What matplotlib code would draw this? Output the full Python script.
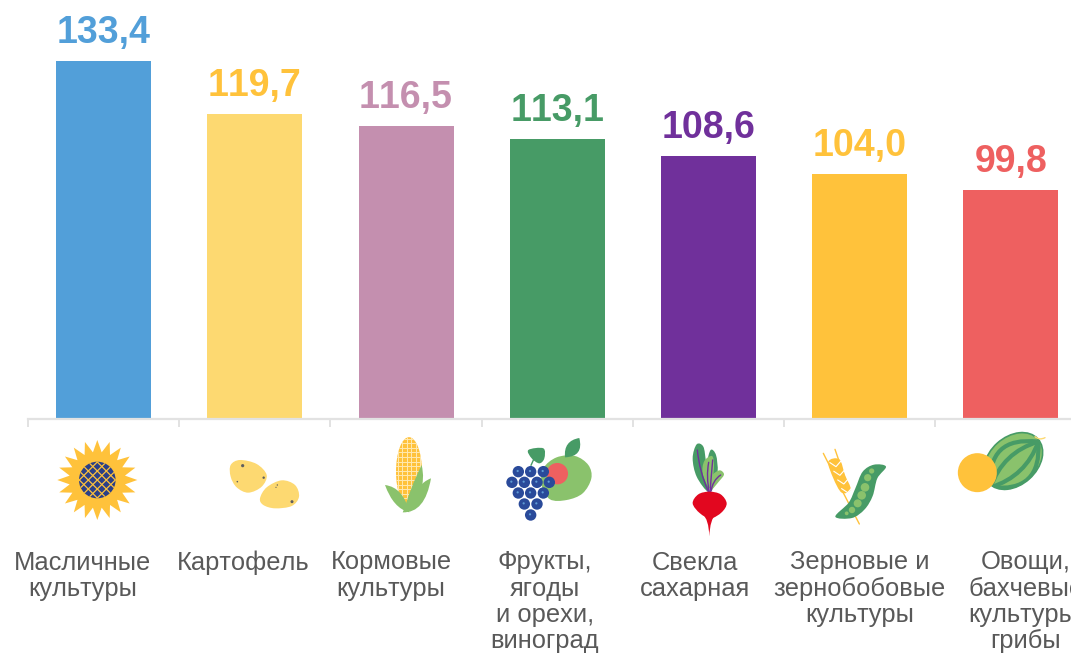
"""Bar chart of crop indices with drawn crop icons."""

import matplotlib

matplotlib.use("Agg")

from matplotlib import pyplot as plt  # noqa: E402
from matplotlib.patches import Circle, Ellipse, PathPatch, Polygon  # noqa: E402
from matplotlib.path import Path  # noqa: E402
import numpy as np  # noqa: E402

VALUES = [133.4, 119.7, 116.5, 113.1, 108.6, 104.0, 99.8]
VALUE_LABELS = ["133,4", "119,7", "116,5", "113,1", "108,6", "104,0", "99,8"]
CATEGORIES = [
    "Масличные\nкультуры",
    "Картофель",
    "Кормовые\nкультуры",
    "Фрукты,\nягоды\nи орехи,\nвиноград",
    "Свекла\nсахарная",
    "Зерновые и\nзернобобовые\nкультуры",
    "Овощи,\nбахчевые\nкультуры,\nгрибы",
]
LABEL_X = [82.5, 243.5, 391, 545, 695, 859.5, 1026]
BAR_COLORS = ["#529FD9", "#FDD971", "#C48FAF", "#479B66", "#70309B", "#FFC23B", "#EE6060"]
TEXT_COLORS = ["#529FD9", "#FFC23B", "#C48FAF", "#479B66", "#70309B", "#FFC23B", "#EE6060"]

W, H = 1071, 654
BASE_Y = 418.5
Y_MIN = 40.6
PX_PER_UNIT = 3.854
SPACING = 151.17
FIRST_CENTER = 103.7

LIGHT_GREEN = "#8AC26C"
DARK_GREEN = "#479B66"
YELLOW = "#FFC23B"
NAVY = "#2A4A9A"

plt.rcParams["font.family"] = ["Liberation Sans", "DejaVu Sans"]
plt.rcParams["text.kerning_factor"] = 10

fig = plt.figure(figsize=(W / 100, H / 100), dpi=100)
ax = fig.add_axes([28 / W, 1 - BASE_Y / H, 1 - 28 / W, BASE_Y / H])
ax.set_xlim(-(FIRST_CENTER - 28) / SPACING, (W - FIRST_CENTER) / SPACING)
ax.set_ylim(Y_MIN, Y_MIN + BASE_Y / PX_PER_UNIT)

x = np.arange(len(VALUES))
bars = ax.bar(x, np.array(VALUES) - Y_MIN, bottom=Y_MIN, width=95 / SPACING, color=BAR_COLORS)
for bar, text, color in zip(bars, VALUE_LABELS, TEXT_COLORS):
    ax.annotate(
        text,
        (bar.get_x() + bar.get_width() / 2, bar.get_y() + bar.get_height()),
        xytext=(0, 13),
        textcoords="offset points",
        ha="center",
        va="baseline",
        fontsize=27,
        fontweight="bold",
        color=color,
    )

for side in ("top", "left", "right"):
    ax.spines[side].set_visible(False)
ax.spines["bottom"].set_color("#E2E2E2")
ax.spines["bottom"].set_linewidth(1.6)
ax.set_yticks([])
ax.set_xticks(np.arange(-0.5, 6.5))
ax.set_xticklabels([])
ax.tick_params(axis="x", length=6, width=1.2, color="#DDDDDD")

# overlay in image pixels for the icons and category labels
icons = fig.add_axes([0, 0, 1, 1], facecolor="none")
icons.set_xlim(0, W)
icons.set_ylim(H, 0)
icons.axis("off")

for label_x, label in zip(LABEL_X, CATEGORIES):
    icons.text(
        label_x,
        550.5,
        label,
        ha="center",
        va="top",
        fontsize=18.4,
        linespacing=1.11,
        color="#595959",
    )


def scaled(origin, points):
    return [(origin[0] + px / 3, origin[1] + py / 3) for px, py in points]


def blob(points, color, zorder=3):
    """Closed smooth shape through the given points."""
    pts = np.array(points, dtype=float)
    n = len(pts)
    verts = [pts[0]]
    codes = [Path.MOVETO]
    for i in range(n):
        c1 = pts[i] + (pts[(i + 1) % n] - pts[i - 1]) / 6
        c2 = pts[(i + 1) % n] - (pts[(i + 2) % n] - pts[i]) / 6
        verts += [c1, c2, pts[(i + 1) % n]]
        codes += [Path.CURVE4] * 3
    patch = PathPatch(Path(verts, codes), fc=color, ec="none", zorder=zorder)
    icons.add_patch(patch)
    return patch


def leaf(points, color, zorder=3):
    """Pointed shape from tip a to tip b with one control point per side."""
    a, c1, b, c2 = points
    path = Path([a, c1, b, c2, a], [Path.MOVETO, Path.CURVE3, Path.CURVE3, Path.CURVE3, Path.CURVE3])
    patch = PathPatch(path, fc=color, ec="none", zorder=zorder)
    icons.add_patch(patch)
    return patch


def curve(points, color, lw, zorder=4, clip=None):
    """Open quadratic stroke through start, control, end."""
    path = Path(points, [Path.MOVETO, Path.CURVE3, Path.CURVE3])
    patch = PathPatch(path, fc="none", ec=color, lw=lw, zorder=zorder, capstyle="round")
    icons.add_patch(patch)
    if clip is not None:
        patch.set_clip_path(clip)
    return patch


def draw_sunflower():
    cx, cy = 97.3, 480
    angles = np.arange(40) * np.pi / 20 + np.pi / 2
    radii = np.where(np.arange(40) % 2 == 0, 40, 28)
    star = np.column_stack([cx + radii * np.cos(angles), cy + radii * np.sin(angles)])
    icons.add_patch(Polygon(star, fc=YELLOW, ec="none", zorder=3))
    disc = Circle((cx, cy), 18.3, fc="#2B3F87", ec="none", zorder=4)
    icons.add_patch(disc)
    for offset in np.arange(-27, 28, 9):
        for sign in (1, -1):
            line, = icons.plot(
                [cx - 25, cx + 25],
                [cy + offset - sign * 25, cy + offset + sign * 25],
                color=YELLOW,
                lw=0.9,
                zorder=5,
            )
            line.set_clip_path(disc)


def draw_potatoes():
    origin = (0, 400)
    blob(
        scaled(origin, [(692, 195), (720, 180), (770, 192), (800, 225), (785, 260), (745, 278), (710, 262), (692, 230)]),
        "#FDD971",
    )
    blob(
        scaled(origin, [(780, 295), (800, 262), (845, 241), (885, 255), (897, 290), (875, 318), (825, 325), (790, 315)]),
        "#FDD971",
    )
    for (px, py), size in [
        ((728, 197), 1.6),
        ((791, 233), 1.2),
        ((712, 245), 0.8),
        ((832, 255), 0.7),
        ((828, 262), 0.6),
        ((876, 305), 1.5),
    ]:
        icons.add_patch(Circle(scaled(origin, [(px, py)])[0], size, fc="#5F5F5F", ec="none", zorder=4))


def draw_corn():
    origin = (360, 400)
    cx, cy = scaled(origin, [(147, 215)])[0]
    cob = Ellipse((cx, cy), 26, 69, fc=YELLOW, ec="none", zorder=3)
    icons.add_patch(cob)
    for gx in np.arange(cx - 11, cx + 12, 4.4):
        line, = icons.plot([gx, gx], [cy - 36, cy + 36], color="#FFE9B0", lw=0.7, zorder=4)
        line.set_clip_path(cob)
    for gy in np.arange(cy - 33, cy + 34, 4.6):
        line, = icons.plot([cx - 14, cx + 14], [gy, gy], color="#FFE9B0", lw=0.7, zorder=4)
        line.set_clip_path(cob)
    leaf(scaled(origin, [(75, 255), (130, 262), (148, 337), (100, 325)]), LIGHT_GREEN, 5)
    leaf(scaled(origin, [(213, 235), (170, 250), (128, 337), (195, 340)]), LIGHT_GREEN, 5)
    leaf(scaled(origin, [(185, 195), (150, 265), (130, 337), (205, 280)]), LIGHT_GREEN, 5)


def draw_fruit():
    origin = (360, 400)
    blob(
        scaled(origin, [(550, 205), (590, 172), (645, 168), (685, 195), (694, 235), (668, 280), (620, 300), (570, 298), (545, 255)]),
        LIGHT_GREEN,
    )
    icons.add_patch(Circle(scaled(origin, [(592, 221)])[0], 10.7, fc="#EE6060", ec="none", zorder=4))
    leaf(scaled(origin, [(615, 172), (610, 122), (658, 114), (672, 170)]), DARK_GREEN, 4)
    blob(scaled(origin, [(505, 150), (550, 145), (553, 175), (538, 190), (515, 175)]), DARK_GREEN, 4)
    curve(scaled(origin, [(522, 176), (518, 185), (513, 196)]), DARK_GREEN, 1.0)
    grapes = [
        (475, 215), (512, 215), (550, 215),
        (456, 247), (493, 247), (531, 247), (568, 247),
        (475, 279), (512, 279), (550, 279),
        (493, 312), (531, 312),
        (512, 345),
    ]
    for gx, gy in grapes:
        icons.add_patch(Circle(scaled(origin, [(gx, gy)])[0], 5.7, fc=NAVY, ec="none", zorder=5))
        icons.add_patch(Circle(scaled(origin, [(gx - 2, gy - 2)])[0], 1.1, fc="#5F9BD5", ec="none", zorder=6))


def draw_beet():
    origin = (670, 435)
    blob(scaled(origin, [(114, 170), (80, 125), (68, 70), (80, 28), (100, 35), (108, 80), (116, 130)]), DARK_GREEN)
    blob(scaled(origin, [(122, 165), (112, 90), (122, 45), (138, 60), (143, 110), (132, 150)]), DARK_GREEN)
    blob(scaled(origin, [(118, 160), (98, 115), (103, 78), (126, 63), (132, 90), (128, 130)]), LIGHT_GREEN, 4)
    blob(scaled(origin, [(122, 165), (124, 125), (148, 106), (162, 118), (148, 138)]), LIGHT_GREEN, 4)
    curve(scaled(origin, [(116, 172), (88, 110), (82, 45)]), "#70309B", 1.0, 5)
    curve(scaled(origin, [(118, 172), (108, 125), (116, 82)]), "#70309B", 1.0, 5)
    curve(scaled(origin, [(120, 172), (124, 120), (128, 75)]), "#70309B", 1.0, 5)
    curve(scaled(origin, [(122, 172), (128, 135), (152, 120)]), "#70309B", 1.0, 5)
    red = "#E2071F"
    blob(scaled(origin, [(68, 205), (85, 178), (118, 170), (152, 178), (170, 205), (155, 232), (122, 250), (90, 235)]), red, 6)
    tail = scaled(origin, [(98, 238), (116, 252), (118, 304), (120, 252), (138, 238)])
    tail_path = Path(tail + [tail[0]], [Path.MOVETO, Path.CURVE3, Path.CURVE3, Path.CURVE3, Path.CURVE3, Path.CLOSEPOLY])
    icons.add_patch(PathPatch(tail_path, fc=red, ec="none", zorder=6))


def draw_grain():
    origin = (720, 400)
    curve(scaled(origin, [(310, 160), (365, 270), (418, 372)]), YELLOW, 1.0, 3)
    curve(scaled(origin, [(345, 148), (365, 205), (385, 265)]), YELLOW, 1.0, 3)
    blob(scaled(origin, [(325, 185), (358, 178), (375, 225), (392, 268), (365, 278), (340, 235)]), YELLOW)
    for offset in range(0, 90, 26):
        icons.plot(
            *zip(*scaled(origin, [(330 + offset * 0.45, 188 + offset), (348 + offset * 0.45, 200 + offset), (362 + offset * 0.45, 184 + offset)])),
            color="white",
            lw=0.8,
            zorder=4,
        )
    blob(
        scaled(origin, [(498, 200), (462, 194), (428, 215), (406, 265), (386, 308), (346, 350), (396, 354), (434, 328), (458, 288), (472, 235)]),
        DARK_GREEN,
        4,
    )
    for px, py, r in [(455, 213, 2.6), (443, 233, 3.6), (435, 262, 4.3), (425, 286, 4.3), (413, 310, 4.0), (396, 330, 3.2), (380, 340, 1.9)]:
        icons.add_patch(Circle(scaled(origin, [(px, py)])[0], r, fc=LIGHT_GREEN, ec="none", zorder=5))


def draw_melons():
    origin = (720, 400)
    center = scaled(origin, [(880, 183)])[0]
    melon = Ellipse(center, 66, 48, angle=-42, fc=LIGHT_GREEN, ec=DARK_GREEN, lw=1.2, zorder=3)
    icons.add_patch(melon)
    start = (955, 125)
    end = (812, 262)
    for ctrl in [(800, 107), (848, 157), (918, 229), (966, 279)]:
        curve(scaled(origin, [start, ctrl, end]), DARK_GREEN, 3.0, 4, clip=melon)
    curve(scaled(origin, [(945, 110), (958, 122), (975, 113)]), "#FDD971", 1.0, 3)
    icons.add_patch(Circle(scaled(origin, [(772, 218)])[0], 19.5, fc=YELLOW, ec="none", zorder=5))


draw_sunflower()
draw_potatoes()
draw_corn()
draw_fruit()
draw_beet()
draw_grain()
draw_melons()

fig.savefig("out.png", dpi=100)
